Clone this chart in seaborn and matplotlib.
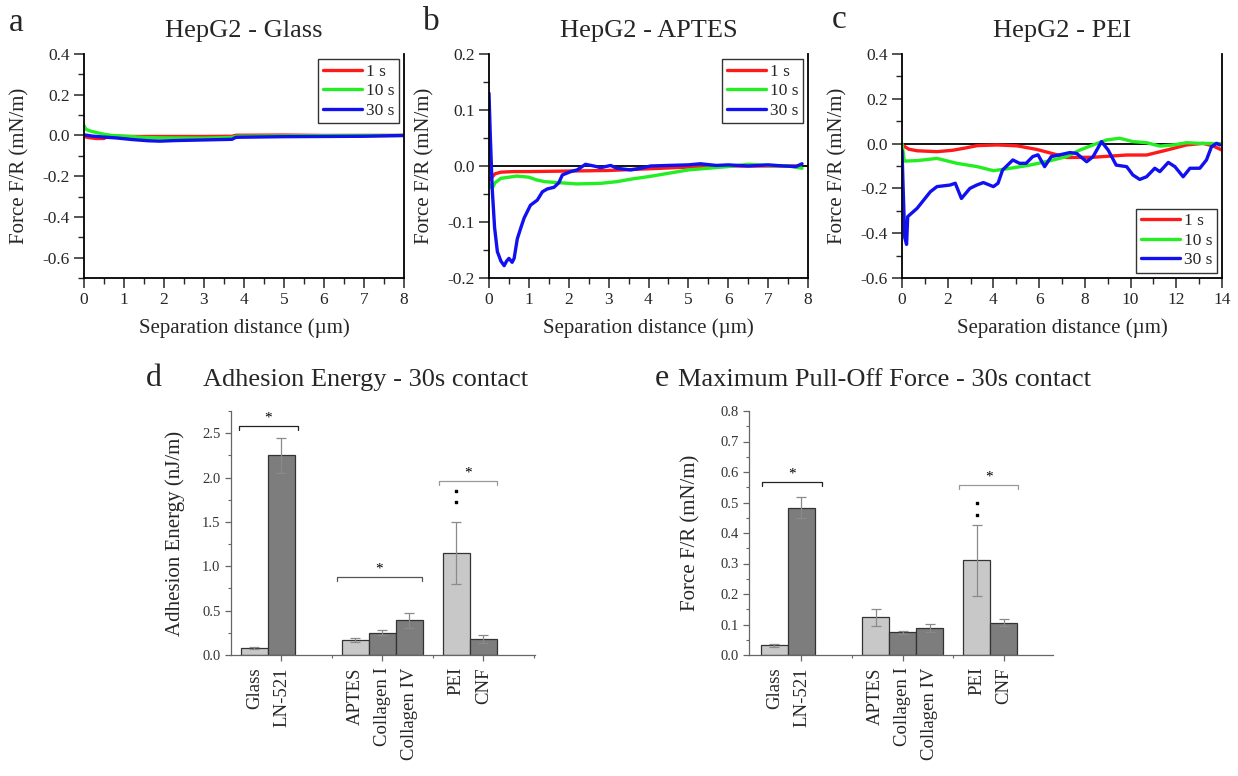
#!/usr/bin/env python3

import matplotlib
matplotlib.use("Agg")
from matplotlib import pyplot as plt
from matplotlib.ticker import MultipleLocator, FixedLocator
import matplotlib.transforms as mtransforms
import pandas as pd
import seaborn as sns


# --- force curves (separation distance in um, F/R in mN/m) ---
CONTACTS = ["1 s", "10 s", "30 s"]

glass_red_x = [0, 0.1, 0.3, 0.5, 0.6, 1.0, 2.0, 3.0, 3.7, 3.8, 5.0, 6.0, 7.0, 8.0]
glass_red_y = [-0.005, -0.01, -0.015, -0.015, -0.003, -0.005, -0.005, -0.005,
               -0.004, 0.001, 0.002, 0.0, 0.0, 0.0]
glass_green_x = [0, 0.05, 0.15, 0.3, 0.5, 0.7, 1.0, 1.5, 2.0, 3.0, 3.7, 3.8,
                 5.0, 6.0, 7.0, 8.0]
glass_green_y = [0.048, 0.03, 0.022, 0.015, 0.006, 0.0, -0.003, -0.01, -0.012,
                 -0.013, -0.01, -0.004, -0.002, -0.001, 0.0, 0.0]
glass_blue_x = [0, 0.2, 0.5, 0.8, 1.2, 1.6, 1.9, 2.3, 3.0, 3.7, 3.8, 5.0, 6.0,
                7.0, 8.0]
glass_blue_y = [0.003, -0.003, -0.008, -0.012, -0.02, -0.026, -0.028, -0.025,
                -0.022, -0.019, -0.009, -0.006, -0.005, -0.004, 0.0]

aptes_red_x = [0, 0.05, 0.15, 0.3, 0.6, 1.0, 2.0, 3.0, 4.0, 5.0, 6.0, 7.0, 7.8]
aptes_red_y = [-0.025, -0.022, -0.014, -0.011, -0.01, -0.01, -0.009, -0.008,
               -0.005, -0.002, 0.0, 0.0, 0.0]
aptes_green_x = [0, 0.08, 0.15, 0.3, 0.7, 1.0, 1.2, 1.4, 1.8, 2.2, 2.8, 3.2,
                 3.6, 4.0, 4.5, 5.0, 5.5, 6.0, 6.5, 7.0, 7.5, 7.85]
aptes_green_y = [-0.032, -0.04, -0.03, -0.022, -0.018, -0.02, -0.025, -0.028,
                 -0.03, -0.032, -0.031, -0.028, -0.023, -0.019, -0.013, -0.007,
                 -0.004, -0.001, 0.003, 0.001, 0.0, -0.004]
aptes_blue_x = [0, 0.03, 0.08, 0.14, 0.21, 0.3, 0.38, 0.44, 0.5, 0.58, 0.63,
                0.71, 0.8, 0.88, 1.04, 1.21, 1.34, 1.46, 1.63, 1.75, 1.84, 2.05,
                2.21, 2.42, 2.63, 2.8, 3.05, 3.21, 3.55, 3.8, 4.05, 4.5, 5.0,
                5.3, 5.7, 6.0, 6.5, 7.0, 7.4, 7.7, 7.85]
aptes_blue_y = [0.13, 0.06, -0.04, -0.11, -0.153, -0.17, -0.178, -0.17, -0.165,
                -0.172, -0.165, -0.13, -0.11, -0.093, -0.07, -0.061, -0.046,
                -0.041, -0.038, -0.03, -0.016, -0.01, -0.007, 0.003, 0.0,
                -0.003, 0.001, -0.004, -0.007, -0.004, 0.0, 0.001, 0.002, 0.004,
                0.001, 0.002, 0.0, 0.002, 0.0, -0.001, 0.004]

pei_red_x = [0, 0.3, 0.66, 1.53, 2.2, 2.7, 3.3, 4.16, 5.03, 5.9, 6.78, 7.2,
             8.36, 9.83, 10.7, 11.58, 12.45, 13.17, 13.6, 14.0]
pei_red_y = [-0.006, -0.025, -0.032, -0.036, -0.03, -0.021, -0.009, -0.006,
             -0.01, -0.026, -0.05, -0.062, -0.061, -0.051, -0.051, -0.029,
             -0.006, 0.001, -0.01, -0.029]
pei_green_x = [0, 0.1, 0.66, 1.53, 2.4, 3.3, 4.0, 4.75, 5.6, 6.5, 7.2, 7.78,
               8.36, 8.94, 9.52, 10.1, 10.7, 11.28, 11.87, 12.45, 13.03, 13.76,
               14.0]
pei_green_y = [0.0, -0.078, -0.076, -0.066, -0.088, -0.103, -0.121, -0.11,
               -0.096, -0.076, -0.058, -0.029, -0.006, 0.016, 0.024, 0.009,
               0.004, -0.011, -0.006, 0.004, 0.001, 0.0, 0.0]
pei_blue_x = [0, 0.05, 0.12, 0.2, 0.25, 0.66, 0.95, 1.24, 1.53, 2.1, 2.33, 2.6,
              2.97, 3.27, 3.56, 4.0, 4.2, 4.4, 4.85, 5.14, 5.43, 5.72, 5.95,
              6.24, 6.53, 6.9, 7.35, 7.64, 8.08, 8.36, 8.73, 9.02, 9.37, 9.83,
              10.1, 10.4, 10.7, 11.06, 11.28, 11.65, 11.94, 12.3, 12.6, 13.03,
              13.32, 13.54, 13.76, 13.91]
pei_blue_y = [-0.03, -0.2, -0.42, -0.45, -0.326, -0.289, -0.252, -0.215, -0.192,
              -0.185, -0.177, -0.245, -0.2, -0.185, -0.174, -0.192, -0.177,
              -0.118, -0.073, -0.088, -0.088, -0.058, -0.05, -0.103, -0.058,
              -0.05, -0.04, -0.044, -0.081, -0.058, 0.009, -0.029, -0.096,
              -0.103, -0.14, -0.16, -0.148, -0.11, -0.125, -0.084, -0.103,
              -0.148, -0.11, -0.11, -0.073, -0.014, 0.001, -0.006]

# --- 30 s contact summary bars ---
CATEGORIES = ["Glass", "LN-521", "APTES", "Collagen I", "Collagen IV", "PEI", "CNF"]
energy = [0.08, 2.25, 0.17, 0.25, 0.39, 1.15, 0.18]
energy_err = [0.01, 0.20, 0.025, 0.03, 0.085, 0.35, 0.05]
energy_pei_outliers = [1.72, 1.85]
pulloff = [0.032, 0.483, 0.123, 0.075, 0.09, 0.31, 0.106]
pulloff_err = [0.005, 0.034, 0.027, 0.005, 0.013, 0.115, 0.012]
pulloff_pei_outliers = [0.46, 0.50]

# layout
W, H = 1238, 776
BAR_POS = [0, 1, 3.74, 4.74, 5.74, 7.48, 8.48]
LINE_COLORS = {"1 s": "#ff1a1a", "10 s": "#22ee22", "30 s": "#1010f0"}
LIGHT, DARK = "#c8c8c8", "#7d7d7d"
BAR_COLORS = dict(zip(CATEGORIES, [LIGHT, DARK, LIGHT, DARK, DARK, LIGHT, DARK]))


def px_axes(fig, left, top, right, bottom):
    return fig.add_axes([left / W, 1 - bottom / H, (right - left) / W,
                         (bottom - top) / H])


def fig_text(fig, x, y, s, **kw):
    fig.text(x / W, 1 - y / H, s, va="baseline", **kw)


def force_panel(ax, curves, title, xmax, xstep, ylim, ystep, loc, zero_line):
    frames = []
    for label, (xs, ys) in zip(CONTACTS, curves):
        frames.append(pd.DataFrame({"dist": xs, "force": ys, "contact": label}))
    df = pd.concat(frames, ignore_index=True)

    if zero_line:
        ax.axhline(0, color="black", lw=1.3, zorder=1)
    sns.lineplot(data=df, x="dist", y="force", hue="contact",
                 hue_order=CONTACTS, palette=LINE_COLORS, sort=False,
                 estimator=None, linewidth=2.4, ax=ax)

    ax.set_xlim(0, xmax)
    ax.set_ylim(*ylim)
    ax.xaxis.set_major_locator(MultipleLocator(xstep))
    ax.xaxis.set_minor_locator(MultipleLocator(xstep / 2))
    ax.yaxis.set_major_locator(MultipleLocator(ystep))
    ax.yaxis.set_minor_locator(MultipleLocator(ystep / 2))
    ax.yaxis.set_major_formatter(lambda v, p: f"{v:.1f}")
    ax.tick_params(which="major", length=7, width=1.1, labelsize=12.5,
                   direction="out", pad=3)
    ax.tick_params(which="minor", length=4, width=1.0, direction="out")
    ax.spines["top"].set_visible(False)
    for s in ("left", "right", "bottom"):
        ax.spines[s].set_linewidth(1.3)
        ax.spines[s].set_color("black")

    ax.set_xlabel("Separation distance (µm)", fontsize=15)
    ax.set_ylabel("Force F/R (mN/m)", fontsize=15)
    ax.xaxis.set_label_coords(0.5, -0.18)
    ax.yaxis.set_label_coords(-0.17, 0.5)
    ax.set_title(title, fontsize=19, pad=12)

    sns.move_legend(ax, loc, title=None, frameon=True, fancybox=False,
                    edgecolor="#333333", framealpha=1, fontsize=12.5,
                    handlelength=2.3, handletextpad=0.2, labelspacing=0.2,
                    borderaxespad=0.3, borderpad=0.25)
    ax.get_legend().get_frame().set_linewidth(1.0)


def bar_panel(ax, values, errors, outliers, ylabel, ymax, ystep, xlim,
              brackets, drop, label_x):
    sns.barplot(x=BAR_POS, y=values, hue=CATEGORIES, palette=BAR_COLORS,
                native_scale=True, dodge=False, width=1, errorbar=None,
                legend=False, edgecolor="#333333", linewidth=0.9, ax=ax)
    ax.errorbar(BAR_POS, values, yerr=errors, fmt="none", ecolor="#8a8a8a",
                elinewidth=0.9, capsize=3.5, capthick=0.9, zorder=3)
    ax.scatter([BAR_POS[5]] * len(outliers), outliers, s=3, marker="s",
               color="black", zorder=4)

    for x0, x1, y, col in brackets:
        ax.plot([x0, x0, x1, x1], [y - drop, y, y, y - drop], color=col,
                lw=0.9, clip_on=False)
        ax.text((x0 + x1) / 2, y + drop * 0.3, "*", ha="center", va="bottom",
                fontsize=11, color="black")

    ax.set_xlim(*xlim)
    ax.set_ylim(0, ymax)
    ax.yaxis.set_major_locator(MultipleLocator(ystep))
    ax.yaxis.set_minor_locator(MultipleLocator(ystep / 2))
    ax.yaxis.set_major_formatter(lambda v, p: f"{v:.1f}")
    ax.xaxis.set_major_locator(FixedLocator([BAR_POS[1], BAR_POS[3], BAR_POS[6]]))
    ax.xaxis.set_minor_locator(FixedLocator([2.87, 6.61, 10.35]))
    ax.set_xticklabels([])
    ax.tick_params(which="major", length=4, width=0.9, color="#666666",
                   labelsize=10.5, labelcolor="#333333", direction="out")
    ax.tick_params(which="minor", length=2.5, width=0.8, color="#666666",
                   direction="out")
    sns.despine(ax=ax)
    for s in ("left", "bottom"):
        ax.spines[s].set_color("#666666")
        ax.spines[s].set_linewidth(0.9)

    trans = mtransforms.blended_transform_factory(ax.transData, ax.transAxes)
    for pos, name in zip(BAR_POS, CATEGORIES):
        ax.text(pos, -0.05, name, transform=trans, rotation=90, ha="center",
                va="top", fontsize=13.5)

    ax.set_xlabel("")
    ax.set_ylabel(ylabel, fontsize=15)
    ax.yaxis.set_label_coords(label_x, 0.5)


def main():
    sns.set_theme(style="ticks")
    plt.rcParams["font.family"] = ["Liberation Serif", "DejaVu Serif"]
    plt.rcParams["axes.unicode_minus"] = False

    fig = plt.figure(figsize=(W / 100, H / 100), dpi=100)
    fig.patch.set_facecolor("white")

    ax_a = px_axes(fig, 84, 54, 404, 278)
    ax_b = px_axes(fig, 489, 54, 808, 278)
    ax_c = px_axes(fig, 902, 54, 1222, 278)
    ax_d = px_axes(fig, 231, 411, 535, 655)
    ax_e = px_axes(fig, 749, 411, 1053, 655)

    force_panel(ax_a, [(glass_red_x, glass_red_y), (glass_green_x, glass_green_y),
                       (glass_blue_x, glass_blue_y)],
                "HepG2 - Glass", 8, 1, (-0.7, 0.4), 0.2, "upper right", False)
    force_panel(ax_b, [(aptes_red_x, aptes_red_y), (aptes_green_x, aptes_green_y),
                       (aptes_blue_x, aptes_blue_y)],
                "HepG2 - APTES", 8, 1, (-0.2, 0.2), 0.1, "upper right", True)
    force_panel(ax_c, [(pei_red_x, pei_red_y), (pei_green_x, pei_green_y),
                       (pei_blue_x, pei_blue_y)],
                "HepG2 - PEI", 14, 2, (-0.6, 0.4), 0.2, "lower right", True)

    bar_panel(ax_d, energy, energy_err, energy_pei_outliers,
              "Adhesion Energy (nJ/m)", 2.75, 0.5, (-0.87, 10.39),
              [(-0.57, 1.61, 2.58, "#222222"), (3.06, 6.2, 0.88, "#555555"),
               (6.83, 9.0, 1.96, "#999999")], 0.045, -0.15)
    bar_panel(ax_e, pulloff, pulloff_err, pulloff_pei_outliers,
              "Force F/R (mN/m)", 0.8, 0.1, (-0.94, 10.3),
              [(-0.46, 1.76, 0.567, "#222222"), (6.84, 9.0, 0.557, "#999999")],
              0.013, -0.158)

    fig_text(fig, 9, 31, "a", fontsize=24)
    fig_text(fig, 423, 30, "b", fontsize=24)
    fig_text(fig, 832, 28, "c", fontsize=24)
    fig_text(fig, 146, 386, "d", fontsize=23)
    fig_text(fig, 203, 386, "Adhesion Energy - 30s contact", fontsize=19)
    fig_text(fig, 655, 386, "e", fontsize=23)
    fig_text(fig, 678, 386, "Maximum Pull-Off Force - 30s contact", fontsize=19)

    fig.savefig("out.png", dpi=100, facecolor="white")


if __name__ == "__main__":
    main()
